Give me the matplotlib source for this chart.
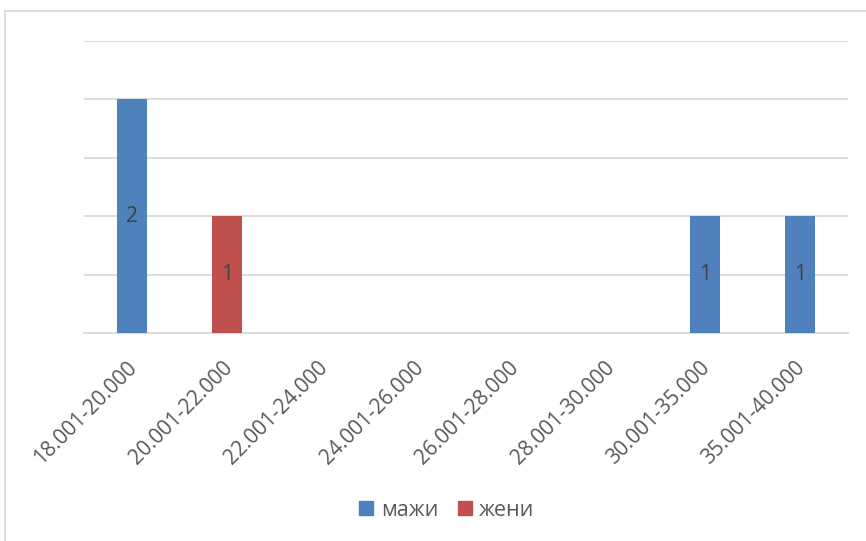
import matplotlib.pyplot as plt
import numpy as np
from matplotlib.lines import Line2D
from matplotlib.patches import Patch
from matplotlib.transforms import ScaledTranslation

plt.rcParams['font.family'] = ['Open Sans', 'DejaVu Sans']

categories = ['18.001-20.000', '20.001-22.000', '22.001-24.000', '24.001-26.000',
              '26.001-28.000', '28.001-30.000', '30.001-35.000', '35.001-40.000']
men = [2, 0, 0, 0, 0, 0, 1, 1]      # мажи
women = [0, 1, 0, 0, 0, 0, 0, 0]    # жени
series_names = ['мажи', 'жени']

BLUE = '#4F81BD'
RED = '#C0504D'
GRID = '#D9D9D9'
TEXT = '#595959'

fig = plt.figure(figsize=(8.66, 5.41), dpi=100)
ax = fig.add_axes([84.25 / 866, 208 / 541, 763.5 / 866, 292 / 541])

x = np.arange(len(categories))
width = 0.314
bars_m = ax.bar(x, men, width, color=BLUE, zorder=3)
bars_w = ax.bar(x, women, width, color=RED, zorder=3)

for bars, vals in ((bars_m, men), (bars_w, women)):
    for b, v in zip(bars, vals):
        if v > 0:
            ax.text(b.get_x() + b.get_width() / 2, v / 2, str(v),
                    ha='center', va='center', fontsize=15, color='#404040', zorder=4)

ax.set_xlim(-0.5, len(categories) - 0.5)
ax.set_ylim(0, 2.5)
ax.set_yticks(np.arange(0, 2.51, 0.5))
ax.yaxis.grid(True, color=GRID, linewidth=1.3, zorder=0)
ax.set_yticklabels([])
ax.tick_params(axis='y', length=0)
ax.tick_params(axis='x', length=0, pad=23)
for s in ['top', 'right', 'left']:
    ax.spines[s].set_visible(False)
ax.spines['bottom'].set_color(GRID)
ax.spines['bottom'].set_linewidth(1.3)

ax.set_xticks(x)
ax.set_xticklabels(categories, rotation=45, ha='right', va='center',
                   rotation_mode='anchor', fontsize=15, color=TEXT)
for lbl in ax.get_xticklabels():
    lbl.set_transform(lbl.get_transform() + ScaledTranslation(0.02, 0, fig.dpi_scale_trans))

handles = [Patch(color=BLUE), Patch(color=RED)]
fig.legend(handles, series_names, loc='center', bbox_to_anchor=(447 / 866, 1 - 510 / 541),
           ncol=2, frameon=False, fontsize=15.5, labelcolor=TEXT,
           handlelength=0.65, handleheight=0.65, handletextpad=0.35, columnspacing=0.9)

# chart area border (only top and left visible in the crop)
fig.add_artist(Line2D([4.5 / 866, 4.5 / 866], [0, 1 - 11 / 541], color=GRID, linewidth=1.3,
                      transform=fig.transFigure))
fig.add_artist(Line2D([4.5 / 866, 1], [1 - 11 / 541, 1 - 11 / 541], color=GRID, linewidth=1.3,
                      transform=fig.transFigure))

fig.savefig('out.png', dpi=100, facecolor='white')
